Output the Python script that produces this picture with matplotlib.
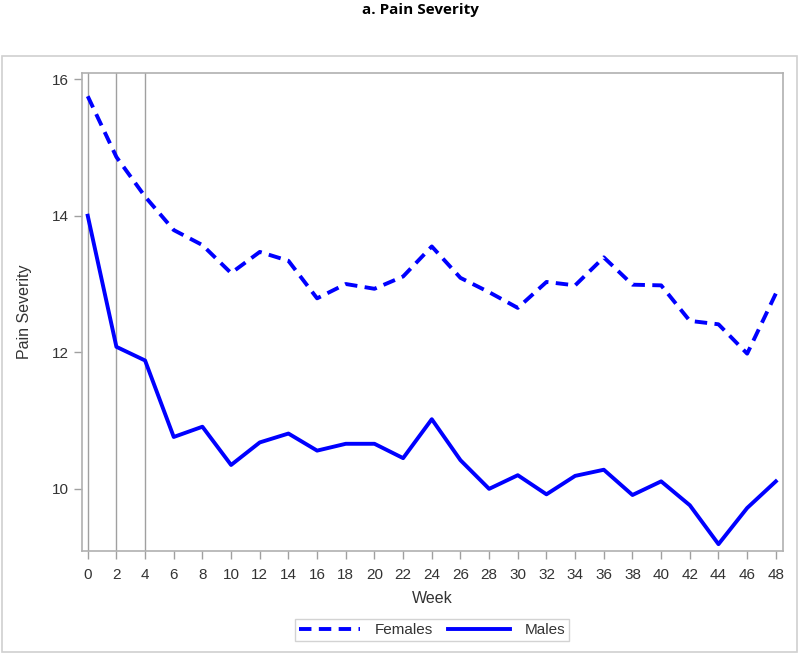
import matplotlib
matplotlib.use("Agg")
import matplotlib.pyplot as plt
from matplotlib.patches import Rectangle

weeks = list(range(0, 49, 2))
females = [15.75, 14.86, 14.28, 13.79, 13.57, 13.16, 13.47, 13.34, 12.79, 13.00, 12.93, 13.11, 13.55,
           13.09, 12.88, 12.65, 13.03, 12.98, 13.39, 12.99, 12.98, 12.46, 12.41, 11.98, 12.86]
males = [14.00, 12.08, 11.88, 10.76, 10.91, 10.35, 10.68, 10.81, 10.56, 10.66, 10.66, 10.45, 11.02,
         10.42, 10.00, 10.20, 9.92, 10.19, 10.28, 9.91, 10.11, 9.76, 9.19, 9.72, 10.11]
ref_weeks = [0, 2, 4]
y_ticks = [10, 12, 14, 16]

plt.rcParams['font.family'] = ['Liberation Sans', 'DejaVu Sans']

fig = plt.figure(figsize=(8, 6.55), dpi=100)
fig.patches.append(Rectangle((2/800, 1 - 652/655), 795/800, 596/655, transform=fig.transFigure,
                             fill=False, edgecolor='#d0d0d0', linewidth=1.2))
fig.text(0.5 + 20/800, 1 - 10/655, 'a. Pain Severity', ha='center', va='center', fontsize=11,
         fontweight='bold', family=['Open Sans', 'DejaVu Sans'])

ax = fig.add_axes([82/800, 1 - 551/655, 701/800, 478/655])
for w in ref_weeks:
    ax.axvline(w, color='#a0a0a0', linewidth=1.0, zorder=1)
ax.plot(weeks, females, color='#0000ff', linewidth=2.8, dashes=(3.2, 1.9), label='Females', zorder=3)
ax.plot(weeks, males, color='#0000ff', linewidth=2.8, label='Males', zorder=3)

ax.set_xlim(-0.4, 48.5)
ax.set_ylim(9.09, 16.09)
ax.set_xticks(weeks)
ax.set_yticks(y_ticks)
ax.tick_params(colors='#a0a0a0', labelcolor='#333333', labelsize=11, length=6, width=1)
ax.tick_params(axis='x', pad=6)
for s in ax.spines.values():
    s.set_color('#b0b0b0')
    s.set_linewidth(1.2)
ax.set_xlabel('Week', fontsize=11.5, color='#333333', labelpad=7)
ax.set_ylabel('Pain Severity', fontsize=11.5, color='#333333', labelpad=14)

leg = ax.legend(loc='center', bbox_to_anchor=(432/800, 1 - 630/655), bbox_transform=fig.transFigure,
                ncol=2, frameon=True, fancybox=False, fontsize=11, handlelength=4.0,
                columnspacing=1.0, handletextpad=1.0, borderpad=0.25, edgecolor='#c8c8c8')
leg.get_frame().set_linewidth(1.0)
for t in leg.get_texts():
    t.set_color('#333333')

fig.savefig('out.png', dpi=100)
